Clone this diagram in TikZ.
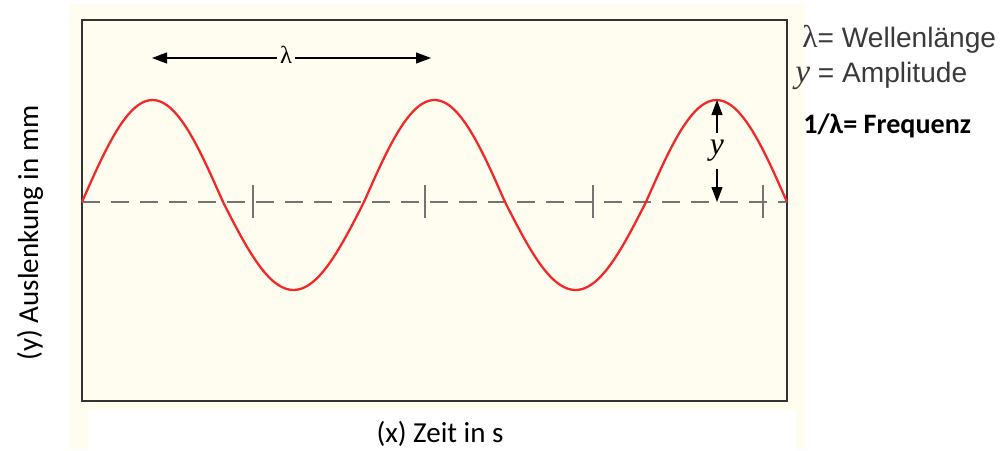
\documentclass[tikz,border=0pt]{standalone}
\usepackage{fontspec}
\setmainfont{Liberation Sans}
\newfontfamily\calib{Carlito}
\newfontfamily\tms{Liberation Serif}
\usetikzlibrary{arrows.meta}
\definecolor{paper}{HTML}{FFFDEF}
\definecolor{wave}{HTML}{F0282A}
\definecolor{legendgray}{HTML}{3A3A3A}

\begin{document}
\begin{tikzpicture}[
  x=0.02cm, y=-0.02cm,
  every node/.style={inner sep=0pt},
  frame/.style={draw=black!80, line width=1.2pt},
  axisline/.style={draw=black!55, line width=0.9pt, dash pattern=on 0.36cm off 0.22cm},
  tick/.style={draw=black!55, line width=0.9pt},
  sinewave/.style={draw=wave, line width=1.3pt},
  measure/.style={draw=black, line width=0.6pt, -{Triangle[length=0.3cm, width=0.22cm]}},
  legend/.style={anchor=base west, font=\fontsize{16}{19}\selectfont, text=legendgray},
  axislabel/.style={font=\calib\fontsize{16.5}{19}\selectfont}
]
\useasboundingbox (0,0) rectangle (1006,450);
% background panel
\fill[paper] (70,4) rectangle (806,450);
\fill[white] (88,410) rectangle (796,450);
\draw[frame, fill=paper] (82,20) rectangle (787,401);

% baseline with ticks
\draw[axisline] (82,202) -- (787,202);
\foreach \tx in {253,425,593,763}
  \draw[tick] (\tx,185) -- (\tx,218);

% wave
\draw[sinewave, smooth, samples=200, domain=82:787]
  plot (\x, {202 - (sin((\x-82)/282*360) > 0 ? 102 : 88)*sin((\x-82)/282*360)});

% wavelength
\node[font=\tms\fontsize{14}{16}\selectfont] (lam) at (286,55) {λ};
\coordinate (lamL) at (152,58);
\coordinate (lamR) at (431,58);
\draw[measure] (lam.west) ++(-3,3) -- (lamL);
\draw[measure] (lam.east) ++(3,3) -- (lamR);

% amplitude
\node[font=\tms\itshape\fontsize{18}{20}\selectfont] (amp) at (717,151) {y};
\coordinate (peak) at (717,100);
\coordinate (base) at (717,202);
\draw[measure] (amp.north) ++(0,-7) -- (peak);
\draw[measure] (amp.south) ++(0,7) -- (base);

% legend
\node[legend] (leg1) at (802,47) {{\tms\fontsize{18}{20}\selectfont λ}= Wellenl\"ange};
\node[legend] (leg2) at (795,82) {{\tms\itshape\fontsize{19}{21}\selectfont y} = Amplitude};
\node[legend, font=\calib\bfseries\fontsize{16}{19}\selectfont, text=black] (leg3) at (803,133) {1/λ= Frequenz};

% axis labels
\node[axislabel, rotate=90] (ylab) at (30,233) {(y) Auslenkung in mm};
\node[axislabel] (xlab) at (440,434) {(x) Zeit in s};
\end{tikzpicture}
\end{document}
